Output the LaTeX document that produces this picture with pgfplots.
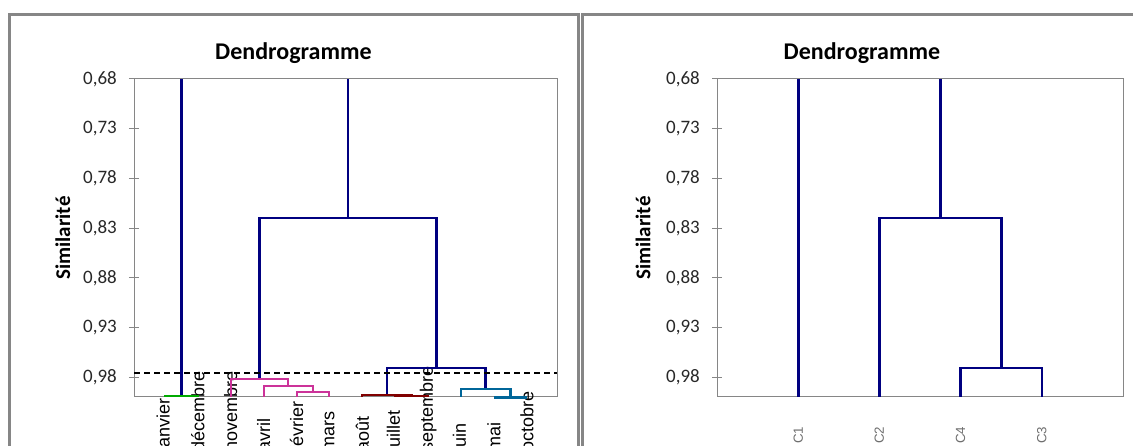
\documentclass[border=0pt]{standalone}
\usepackage{fontspec}
\setmainfont{Carlito}
\newfontfamily\arialf{Liberation Sans}
\usepackage{pgfplots}
\pgfplotsset{compat=1.18}
\definecolor{axgray}{RGB}{134,134,134}
\definecolor{labgray}{RGB}{110,110,110}
\definecolor{navyc}{RGB}{0,0,128}
\definecolor{magc}{RGB}{204,51,153}
\definecolor{greenc}{RGB}{0,170,0}
\definecolor{redc}{RGB}{128,0,0}
\definecolor{tealc}{RGB}{0,102,153}
\definecolor{tickc}{RGB}{40,40,40}
\pgfplotsset{
  dendro/.style={
    scale only axis, height=318pt, anchor=south west,
    y dir=reverse, ymin=0.68, ymax=1.0,
    ytick={0.68,0.73,0.78,0.83,0.88,0.93,0.98},
    ytick pos=left, xtick pos=bottom,
    yticklabel style={/pgf/number format/fixed,/pgf/number format/fixed zerofill,
      /pgf/number format/precision=2,/pgf/number format/use comma,
      /pgf/number format/assume math mode=true,
      font=\fontsize{19}{19}\selectfont, anchor=east, inner sep=0pt, text=tickc},
    axis line style={axgray, line width=1pt},
    tick style={axgray, line width=1pt},
    tick align=center, major tick length=10pt,
    xtick style={draw=none},
    clip=false,
    title={Dendrogramme},
    ylabel={Similarité},
  }
}
\begin{document}
\begin{tikzpicture}
\useasboundingbox (0,0) rectangle (1133pt,446pt);
\clip (0,0) rectangle (1133pt,446pt);
\draw[axgray, line width=3pt] (9.5pt,-10pt) -- (9.5pt,431.3pt) -- (578pt,431.3pt) -- (578pt,-10pt);
\draw[axgray, line width=3pt] (582.5pt,-10pt) -- (582.5pt,431.3pt) -- (1150pt,431.3pt);
% ---------- left ----------
\begin{axis}[dendro, at={(134pt,49pt)}, width=423pt,
  xmin=0.058, xmax=12.915,
  xtick={1,...,12},
  xticklabels={janvier,décembre,novembre,avril,février,mars,août,juillet,septembre,juin,mai,octobre},
  xticklabel style={rotate=90, anchor=west, inner sep=0pt, font=\arialf\fontsize{18}{18}\selectfont, text=black},
  xticklabel shift=49.5pt,
  yticklabel shift=12pt,
  title style={font=\bfseries\fontsize{24}{24}\selectfont, at={(axis description cs:0.377,1.062)}, anchor=center, inner sep=0pt},
  ylabel style={font=\bfseries\fontsize{21}{21}\selectfont, at={(axis description cs:-0.168,0.5)}, anchor=center, inner sep=0pt},
]
% blue upper links
\addplot[navyc, line width=2.6pt] coordinates {(1.5,0.9988) (1.5,0.68)};
\addplot[navyc, line width=2.6pt] coordinates {(6.5625,0.82) (6.5625,0.68)};
\addplot[navyc, line width=2.6pt] coordinates {(3.875,0.982) (3.875,0.82) (9.25,0.82) (9.25,0.9707)};
\addplot[navyc, line width=2.6pt] coordinates {(7.75,0.9978) (7.75,0.9707) (10.75,0.9707) (10.75,0.992)};
% green
\addplot[greenc, line width=2pt] coordinates {(1,1) (1,0.9988) (2,0.9988) (2,1)};
% magenta
\addplot[magc, line width=2pt] coordinates {(3,1) (3,0.982) (4.75,0.982) (4.75,0.9887)};
\addplot[magc, line width=2pt] coordinates {(4,1) (4,0.9887) (5.5,0.9887) (5.5,0.9954)};
\addplot[magc, line width=2pt] coordinates {(5,1) (5,0.9954) (6,0.9954) (6,1)};
% red
\addplot[redc, line width=2pt] coordinates {(7,1) (7,0.9978) (8.5,0.9978) (8.5,0.9988)};
\addplot[redc, line width=2pt] coordinates {(8,1) (8,0.9988) (9,0.9988) (9,1)};
% teal
\addplot[tealc, line width=2.6pt] coordinates {(10,1) (10,0.992) (11.5,0.992) (11.5,1.0008)};
\addplot[tealc, line width=2.6pt] coordinates {(11,1.0008) (12,1.0008)};
% cut line
\addplot[black, line width=1.5pt, dash pattern=on 6pt off 4pt] coordinates {(0.058,0.9757) (12.915,0.9757)};
\end{axis}
% ---------- right ----------
\begin{axis}[dendro, at={(717pt,49pt)}, width=406pt,
  xmin=0, xmax=5,
  xtick={1,2,3,4},
  xticklabels={C1,C2,C4,C3},
  xticklabel style={rotate=90, anchor=west, inner sep=0pt, font=\arialf\fontsize{13.3}{13.3}\selectfont, text=labgray},
  xticklabel shift=42pt,
  yticklabel shift=12pt,
  title style={font=\bfseries\fontsize{24}{24}\selectfont, at={(axis description cs:0.357,1.062)}, anchor=center, inner sep=0pt},
  ylabel style={font=\bfseries\fontsize{21}{21}\selectfont, at={(axis description cs:-0.182,0.5)}, anchor=center, inner sep=0pt},
]
\addplot[navyc, line width=2.6pt] coordinates {(1,1) (1,0.68)};
\addplot[navyc, line width=2.6pt] coordinates {(2,1) (2,0.82) (3.5,0.82) (3.5,0.9707)};
\addplot[navyc, line width=2.6pt] coordinates {(3,1) (3,0.9707) (4,0.9707) (4,1)};
\addplot[navyc, line width=2.6pt] coordinates {(2.75,0.82) (2.75,0.68)};
\end{axis}
\end{tikzpicture}
\end{document}
